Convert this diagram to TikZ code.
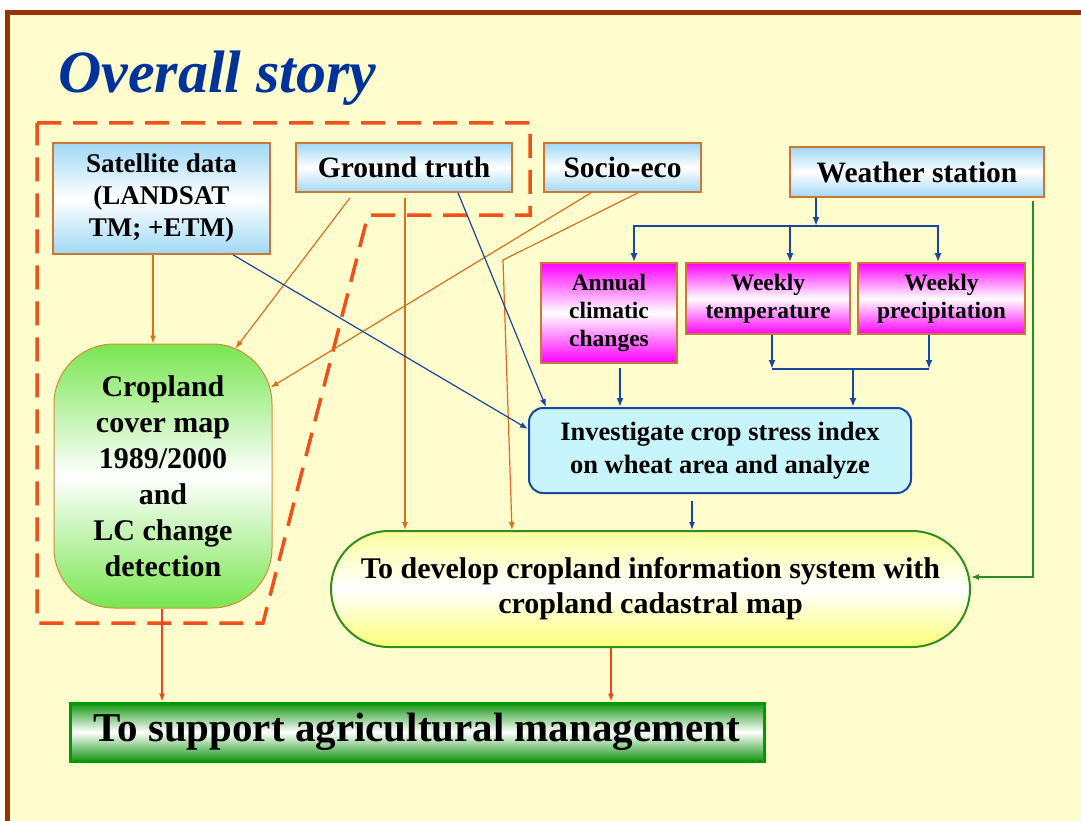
\documentclass[tikz,border=0pt]{standalone}
\usepackage{fontspec}
\setmainfont{Liberation Serif}
\usetikzlibrary{arrows.meta}

\definecolor{bgyellow}{RGB}{255,253,206}
\definecolor{framebrown}{RGB}{153,51,0}
\definecolor{titleblue}{RGB}{0,51,153}
\definecolor{boxedge}{RGB}{204,119,51}
\definecolor{skyblue}{RGB}{160,216,245}
\definecolor{magentabox}{RGB}{255,0,255}
\definecolor{cropgreen}{RGB}{120,230,80}
\definecolor{cropedge}{RGB}{210,140,60}
\definecolor{orangeline}{RGB}{220,110,30}
\definecolor{blueline}{RGB}{25,70,160}
\definecolor{greenline}{RGB}{40,140,40}
\definecolor{redline}{RGB}{240,70,20}
\definecolor{dashred}{RGB}{240,80,25}
\definecolor{invfill}{RGB}{200,245,252}
\definecolor{devedge}{RGB}{50,140,30}
\definecolor{devyellow}{RGB}{255,255,120}
\definecolor{supgreen}{RGB}{20,150,20}

\begin{document}
\begin{tikzpicture}[x=1pt,y=-1pt,
  hdr/.style={draw=boxedge,line width=1.6pt,top color=skyblue,bottom color=skyblue,
    middle color=white,align=center,inner sep=0pt,
    font=\bfseries\fontsize{29.5}{34}\selectfont},
  clim/.style={draw=boxedge,line width=1.6pt,top color=magentabox,bottom color=magentabox,
    middle color=white,align=center,inner sep=0pt,
    font=\bfseries\fontsize{23.5}{28}\selectfont},
  oarrow/.style={draw=orangeline,line width=1.2pt,-{Latex[length=8pt,width=6pt]}},
  barrow/.style={draw=blueline,line width=1.2pt,-{Latex[length=8pt,width=6pt]}},
  bthick/.style={draw=blueline,line width=2pt,-{Latex[length=9pt,width=7pt]}},
  bline/.style={draw=blueline,line width=2pt},
  garrow/.style={draw=greenline,line width=1.2pt,-{Latex[length=8pt,width=6pt]}},
  rarrow/.style={draw=redline,line width=1.2pt,-{Latex[length=8pt,width=6pt]}},
  dashline/.style={draw=dashred,line width=3.5pt,dash pattern=on 24pt off 12pt}
]
\useasboundingbox (0,0) rectangle (1081,821);

% slide background and frame
\fill[white] (0,0) rectangle (1081,821);
\fill[bgyellow] (7.5,12.5) rectangle (1081,821);
\draw[framebrown,line width=5pt] (7.5,821) -- (7.5,12.5) -- (1081,12.5);

% title
\node[anchor=base west,inner sep=0pt,text=titleblue,
  font=\bfseries\itshape\fontsize{60}{72}\selectfont] (title) at (58,93) {Overall story};

% dashed outline around the land-cover part
\draw[dashline] (37,123) -- (530,123) -- (530,215) -- (368,215) -- (263,623) -- (37,623) -- cycle;

% input boxes
\node[hdr,minimum width=217pt,minimum height=111pt,
  font=\bfseries\fontsize{27}{32}\selectfont] (sat) at (161.5,198.5)
  {Satellite data\\(LANDSAT\\TM; +ETM)};
\node[hdr,minimum width=216pt,minimum height=49pt] (gt) at (404,167.5) {Ground truth};
\node[hdr,minimum width=157pt,minimum height=49pt] (soc) at (622.5,167.5) {Socio-eco};
\node[hdr,minimum width=254pt,minimum height=50pt] (ws) at (917,172) {Weather station};

% climate boxes
\node[clim,minimum width=136pt,minimum height=100pt] (ann) at (609,313) {Annual\\climatic\\changes};
\node[clim,minimum width=164pt,minimum height=71pt] (temp) at (768,298.5) {Weekly\\temperature};
\node[clim,minimum width=167pt,minimum height=71pt] (prec) at (941.5,298.5) {Weekly\\precipitation};

% cropland cover map
\node[draw=cropedge,line width=1pt,rounded corners=60pt,top color=cropgreen,
  bottom color=cropgreen,middle color=white,minimum width=218pt,minimum height=264pt,
  align=center,inner sep=0pt,font=\bfseries\fontsize{30}{36}\selectfont] (crop) at (163,476)
  {Cropland\\cover map\\1989/2000\\and\\LC change\\detection};

% crop stress analysis
\node[draw=blueline,line width=2pt,rounded corners=14pt,fill=invfill,
  minimum width=382pt,minimum height=85pt,align=center,inner sep=0pt,
  font=\bfseries\fontsize{26.5}{33}\selectfont] (inv) at (720,450.5)
  {Investigate crop stress index\\on wheat area and analyze};

% cropland information system
\node[draw=devedge,line width=2pt,rounded corners=58pt,top color=devyellow!70,
  bottom color=devyellow,middle color=white,minimum width=639pt,minimum height=116pt,
  align=center,inner sep=0pt,font=\bfseries\fontsize{30}{35}\selectfont] (dev) at (650.5,589)
  {To develop cropland information system with\\cropland cadastral map};

% final goal
\node[draw=green!60!black,line width=3pt,top color=supgreen,bottom color=supgreen,
  middle color=white,minimum width=694pt,minimum height=58pt,inner sep=0pt,
  font=\bfseries\fontsize{41}{44}\selectfont] (sup) at (417,732)
  {To support agricultural management};

% connectors from the inputs
\draw[oarrow] ([xshift=-8.5pt]sat.south) -- ([xshift=-8.5pt]sat.south |- crop.north);
\draw[oarrow] ([xshift=-54pt,yshift=-5pt]gt.south) -- ([xshift=-37pt,yshift=-5pt]crop.north east);
\draw[oarrow] ([xshift=-31.5pt]soc.south) -- ([xshift=-2pt,yshift=-44pt]crop.north east);
\coordinate (socbend) at (503,260);
\draw[oarrow] ([xshift=15.5pt]soc.south) -- (socbend) -- ([xshift=-138.5pt]dev.north);
\draw[oarrow] ([xshift=1pt,yshift=-5pt]gt.south) -- ([xshift=1pt]gt.south |- dev.north);
\draw[barrow] ([xshift=54pt]gt.south) -- ([xshift=18pt]inv.north west);
\draw[barrow] ([xshift=71.5pt]sat.south) -- ([yshift=-22pt]inv.north west);

% weather station branches
\coordinate (wsj) at (816,226);
\draw[bthick] ([xshift=-101pt]ws.south) -- (wsj);
\draw[bthick] (wsj) -| ([xshift=25pt]ann.north);
\draw[bthick] (wsj) -| ([xshift=-3.5pt]prec.north);
\draw[bthick] ([xshift=22pt]temp.north |- wsj) -- ([xshift=22pt]temp.north);

% weekly data merge into the stress analysis
\coordinate (mj) at (853,369);
\draw[bthick] ([xshift=4pt]temp.south) -- ([xshift=4pt]temp.south |- mj);
\draw[bthick] ([xshift=-12.5pt]prec.south) -- ([xshift=-12.5pt]prec.south |- mj);
\draw[bline] ([xshift=4pt]temp.south |- mj) -- ([xshift=-12.5pt]prec.south |- mj);
\draw[bthick] (mj) -- (mj |- inv.north);
\draw[bthick] ([xshift=11pt,yshift=-4pt]ann.south) -- ([xshift=11pt]ann.south |- inv.north);
\draw[barrow] ([xshift=-28pt,yshift=-7pt]inv.south) -- ([xshift=-28pt]inv.south |- dev.north);

% weather data straight into the information system
\draw[garrow] ([xshift=116pt,yshift=-3pt]ws.south) |- ([yshift=12pt]dev.east);

% towards the final goal
\draw[rarrow] ([xshift=-1pt]crop.south) -- ([xshift=-1pt]crop.south |- sup.north);
\draw[rarrow] ([xshift=-39.5pt]dev.south) -- ([xshift=-39.5pt]dev.south |- sup.north);
\end{tikzpicture}
\end{document}
